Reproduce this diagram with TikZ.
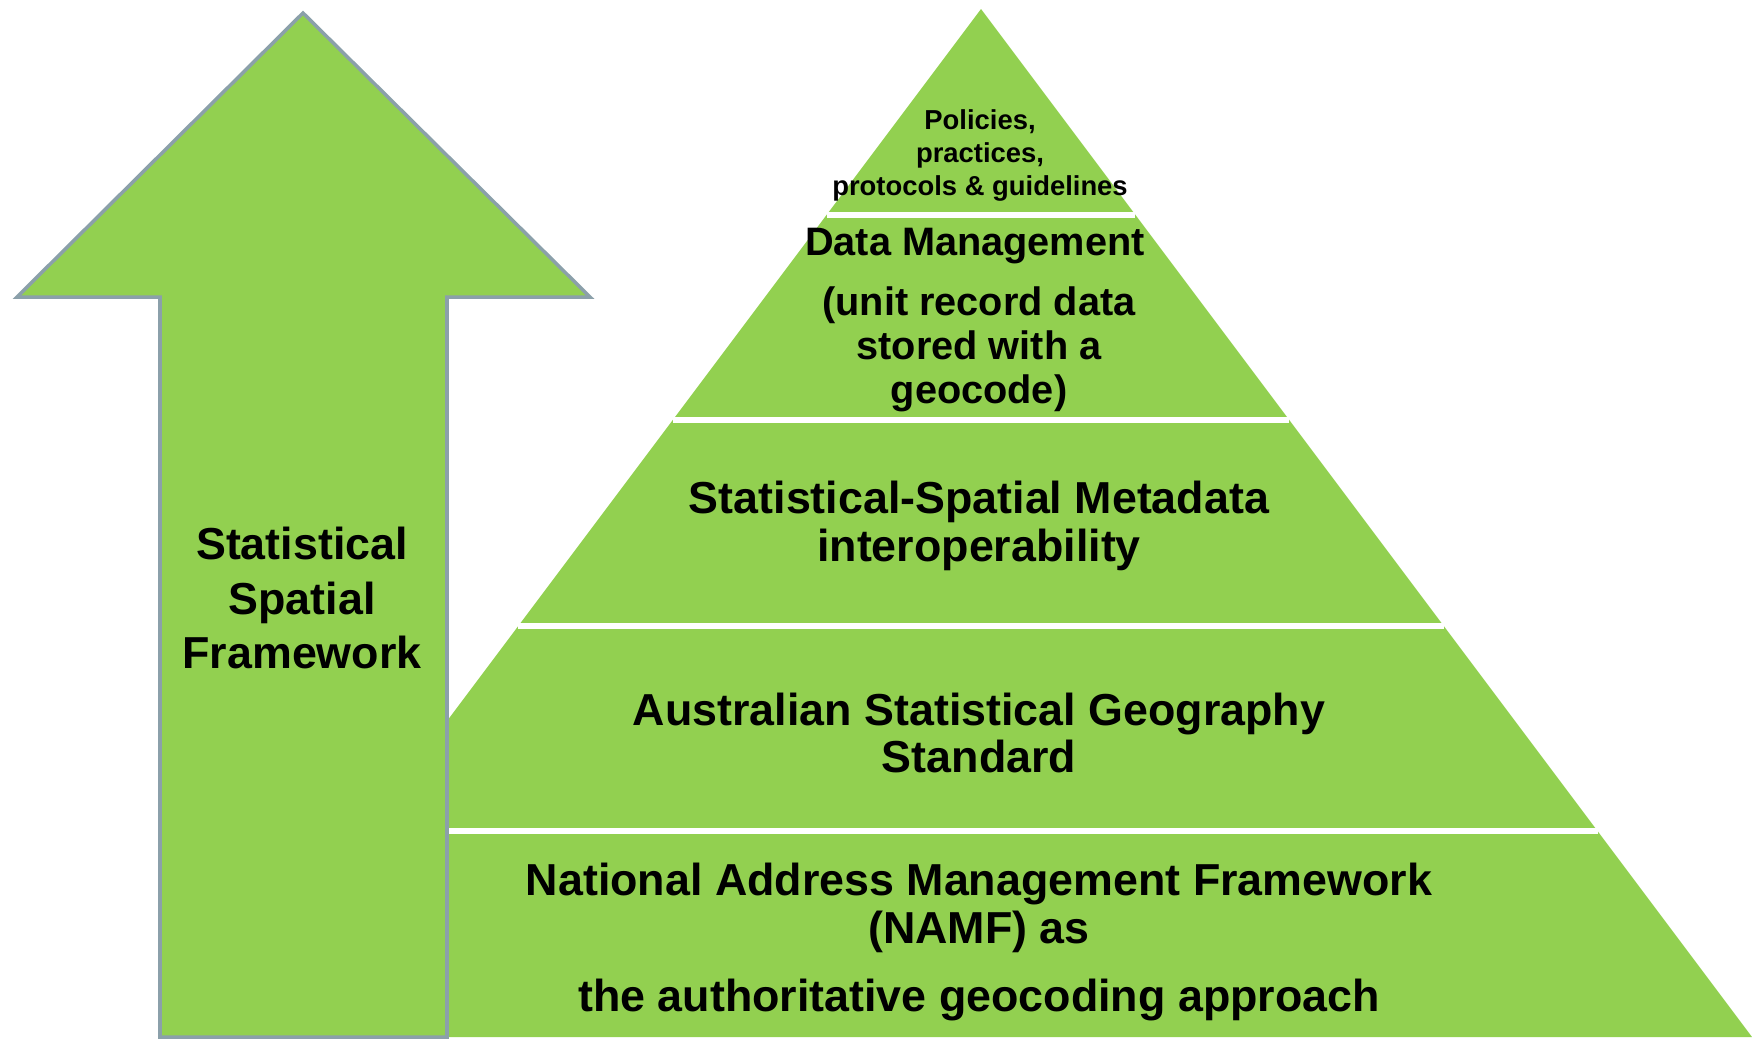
\documentclass[tikz,border=0pt]{standalone}
\usepackage{fontspec}
\setmainfont{Liberation Sans}
\usetikzlibrary{calc}

\definecolor{layergreen}{RGB}{146,208,80}
\definecolor{arrowedge}{RGB}{139,160,170}

\begin{document}
\begin{tikzpicture}[x = 0.02cm, y = -0.02cm]
\tikzstyle{LayerFill}=[fill = layergreen]
\tikzstyle{LayerSep}=[draw = white, line width = 3.4pt]
\tikzstyle{ArrowStyle}=[fill = layergreen, draw = arrowedge,
                        line width = 2pt, line join = miter]
\tikzstyle{LayerText}=[align = center, inner sep = 0pt,
                       font = \bfseries\fontsize{25.5}{27}\selectfont]
\tikzstyle{MidText}=[LayerText, font = \bfseries\fontsize{22.6}{25}\selectfont]
\tikzstyle{TopText}=[LayerText, font = \bfseries\fontsize{15.6}{18.8}\selectfont]
\tikzstyle{ArrowText}=[LayerText, font = \bfseries\fontsize{25.5}{30.8}\selectfont]
\useasboundingbox (0,0) rectangle (1752,1039);
\coordinate (apex) at (981,9);
\coordinate (bl) at (210,1037);
\coordinate (br) at (1752,1037);
\fill[LayerFill] (apex) -- (br) -- (bl) -- cycle;
\draw[LayerSep] ($(apex)!0.2!(bl)$) -- ($(apex)!0.2!(br)$);
\draw[LayerSep] ($(apex)!0.4!(bl)$) -- ($(apex)!0.4!(br)$);
\draw[LayerSep] ($(apex)!0.6!(bl)$) -- ($(apex)!0.6!(br)$);
\draw[LayerSep] ($(apex)!0.8!(bl)$) -- ($(apex)!0.8!(br)$);
\coordinate (tip) at (303,13);
\coordinate (hl) at (17,297);
\coordinate (hr) at (590,297);
\coordinate (sl) at (160,297);
\coordinate (sr) at (447,297);
\coordinate (sbl) at (160,1037);
\coordinate (sbr) at (447,1037);
\draw[ArrowStyle] (tip) -- (hr) -- (sr) -- (sbr) -- (sbl) -- (sl) -- (hl) -- cycle;
\node[TopText] (policies) at (980,155) {Policies,\\practices,\\protocols \& guidelines};
\node[MidText] (datamgmt) at (975,246) {Data Management};
\node[MidText] (unitrecord) at (979,349) {(unit record data\\stored with a\\geocode)};
\node[LayerText] (metadata) at (979,526) {Statistical-Spatial Metadata\\interoperability};
\node[LayerText] (asgs) at (979,733) {Australian Statistical Geography\\Standard};
\node[LayerText] (namf) at (979,908) {National Address Management Framework\\(NAMF) as};
\node[LayerText] (approach) at (979,1000) {the authoritative geocoding approach};
\node[ArrowText] (ssf) at (302,598) {Statistical\\Spatial\\Framework};
\end{tikzpicture}
\end{document}
